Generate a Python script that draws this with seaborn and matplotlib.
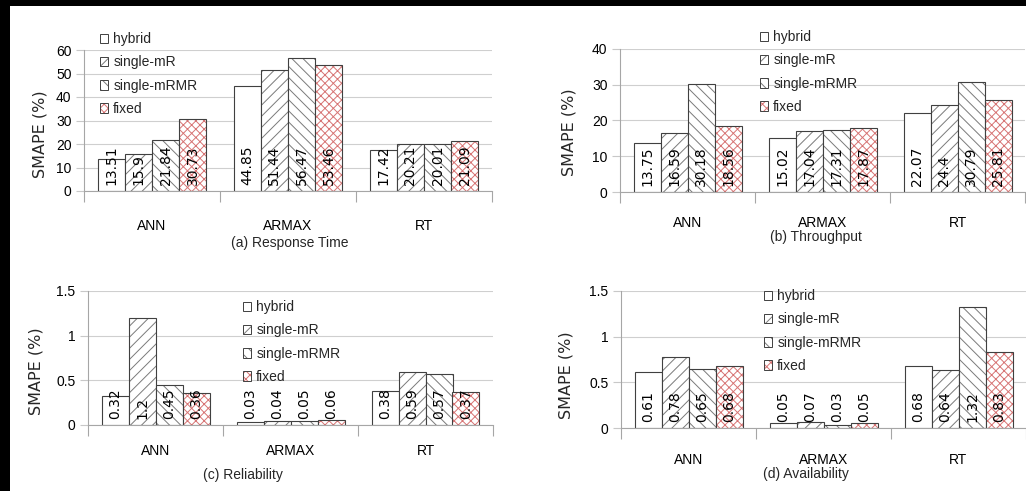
import numpy as np
import pandas as pd
import matplotlib
matplotlib.use("Agg")
import matplotlib.pyplot as plt
import matplotlib.colors as mcolors
from matplotlib.patches import Patch, Rectangle
import seaborn as sns

# ---------------- data ----------------
models = ["ANN", "ARMAX", "RT"]
methods = ["hybrid", "single-mR", "single-mRMR", "fixed"]

resp_hybrid = [13.51, 44.85, 17.42]
resp_mr = [15.9, 51.44, 20.21]
resp_mrmr = [21.84, 56.47, 20.01]
resp_fixed = [30.73, 53.46, 21.09]

thr_hybrid = [13.75, 15.02, 22.07]
thr_mr = [16.59, 17.04, 24.4]
thr_mrmr = [30.18, 17.31, 30.79]
thr_fixed = [18.56, 17.87, 25.81]

rel_hybrid = [0.32, 0.03, 0.38]
rel_mr = [1.2, 0.04, 0.59]
rel_mrmr = [0.45, 0.05, 0.57]
rel_fixed = [0.36, 0.06, 0.37]

ava_hybrid = [0.61, 0.05, 0.68]
ava_mr = [0.78, 0.07, 0.64]
ava_mrmr = [0.65, 0.03, 1.32]
ava_fixed = [0.68, 0.05, 0.83]

resp_ticks = [0, 10, 20, 30, 40, 50, 60]
thr_ticks = [0, 10, 20, 30, 40]
small_ticks = [0, 0.5, 1, 1.5]

captions = ["(a) Response Time", "(b) Throughput", "(c) Reliability", "(d) Availability"]
ylabel_text = "SMAPE (%)"

# ---------------- style ----------------
sns.set_style("white")
plt.rcParams["font.family"] = ["Liberation Sans", "DejaVu Sans"]
plt.rcParams["hatch.linewidth"] = 0.7

W, H = 1026, 491
fig = plt.figure(figsize=(W / 100, H / 100), dpi=100)
fig.patch.set_facecolor("white")

EDGE = "#404040"
GRAY_HATCH = "#7a7a7a"
RED = "#d77474"
hatches = ["", "///", "\\\\\\", "xxxx"]
hatch_colors = [EDGE, GRAY_HATCH, GRAY_HATCH, RED]


def set_hc(p, c):
    if hasattr(p, "set_hatchcolor"):
        p.set_hatchcolor(c)
    else:
        p._hatch_color = mcolors.to_rgba(c)


# layout in pixel coordinates (x0, x1, ytop, ybottom)
panels = [
    dict(vals=[resp_hybrid, resp_mr, resp_mrmr, resp_fixed], ticks=resp_ticks,
         box=(84, 492, 50, 191), legend=(100, 74), xpad=20, cap=(290, 243), yl=(40, 134)),
    dict(vals=[thr_hybrid, thr_mr, thr_mrmr, thr_fixed], ticks=thr_ticks,
         box=(620, 1025, 49, 192), legend=(760, 72), xpad=17, cap=(816, 237), yl=(569, 132)),
    dict(vals=[rel_hybrid, rel_mr, rel_mrmr, rel_fixed], ticks=small_ticks,
         box=(88, 493, 291, 425), legend=(243, 342), xpad=14, cap=(243, 475), yl=(36, 371)),
    dict(vals=[ava_hybrid, ava_mr, ava_mrmr, ava_fixed], ticks=small_ticks,
         box=(621, 1026, 291, 428), legend=(764, 331), xpad=18, cap=(806, 474), yl=(566, 375)),
]

for spec, cap in zip(panels, captions):
    x0, x1, yt, yb = spec["box"]
    ax = fig.add_axes([x0 / W, (H - yb) / H, (x1 - x0) / W, (yb - yt) / H])
    df = pd.DataFrame({
        "model": models * len(methods),
        "method": np.repeat(methods, len(models)),
        "value": np.concatenate(spec["vals"]),
    })
    sns.barplot(data=df, x="model", y="value", hue="method", order=models,
                hue_order=methods, palette=["white"] * 4, saturation=1,
                edgecolor=EDGE, linewidth=0.8, width=0.8, errorbar=None,
                legend=False, ax=ax)
    for cont, h, hc in zip(ax.containers, hatches, hatch_colors):
        for p in cont:
            p.set_facecolor("white")
            p.set_edgecolor(EDGE)
            p.set_linewidth(0.8)
            p.set_hatch(h)
            set_hc(p, hc)
    for cont, vals in zip(ax.containers, spec["vals"]):
        for p, v in zip(cont, vals):
            ax.annotate(f"{v:g}", xy=(p.get_x() + p.get_width() / 2, 0),
                        xytext=(0, 4), textcoords="offset points",
                        rotation=90, ha="center", va="bottom", fontsize=10,
                        family=["DejaVu Sans"], color="black", zorder=6)

    ticks = spec["ticks"]
    ax.set_xlim(-0.5, 2.5)
    ax.set_ylim(0, ticks[-1])
    ax.set_yticks(ticks)
    ax.set_yticklabels([f"{t:g}" for t in ticks])
    ax.set_axisbelow(True)
    ax.grid(axis="y", color="#cfcfcf", linewidth=0.8)
    ax.grid(axis="x", visible=False)
    ax.set_xlabel("")
    ax.set_ylabel("")
    for s in ["top", "right"]:
        ax.spines[s].set_visible(False)
    for s in ["left", "bottom"]:
        ax.spines[s].set_color("#a6a6a6")
        ax.spines[s].set_linewidth(0.8)
    ax.tick_params(axis="y", left=True, length=6, width=0.8, color="#c8c8c8",
                   pad=3, labelsize=10, labelcolor="black")
    ax.tick_params(axis="x", which="major", length=0, pad=spec["xpad"],
                   labelsize=10, labelcolor="black")
    ax.set_xticks([-0.5, 0.5, 1.5, 2.5], minor=True)
    ax.tick_params(axis="x", which="minor", bottom=True, length=8, width=0.8,
                   color="#a6a6a6")

    handles = []
    for h, hc in zip(hatches, hatch_colors):
        hp = Patch(facecolor="white", edgecolor=EDGE, hatch=h, linewidth=0.7)
        set_hc(hp, hc)
        handles.append(hp)
    lx, ly = spec["legend"]
    ax.legend(handles, methods, loc="center left",
              bbox_to_anchor=(lx / W, 1 - ly / H), bbox_transform=fig.transFigure,
              frameon=False, borderpad=0, borderaxespad=0, handlelength=0.55,
              handleheight=0.7, handletextpad=0.4, labelspacing=0.66, fontsize=10)

    cx, cy = spec["cap"]
    fig.text(cx / W, 1 - cy / H, cap, ha="center", va="center", fontsize=10)
    yx, yy = spec["yl"]
    fig.text(yx / W, 1 - yy / H, ylabel_text, rotation=90, ha="center",
             va="center", fontsize=11.5, family=["DejaVu Sans"])

# black frame edges at top and left, as in the reference crop
fig.add_artist(Rectangle((0, 1 - 6 / H), 1, 6 / H, transform=fig.transFigure,
                         facecolor="black", edgecolor="none", zorder=10))
fig.add_artist(Rectangle((0, 0), 10 / W, 1, transform=fig.transFigure,
                         facecolor="black", edgecolor="none", zorder=10))

fig.savefig("out.png", dpi=100)
